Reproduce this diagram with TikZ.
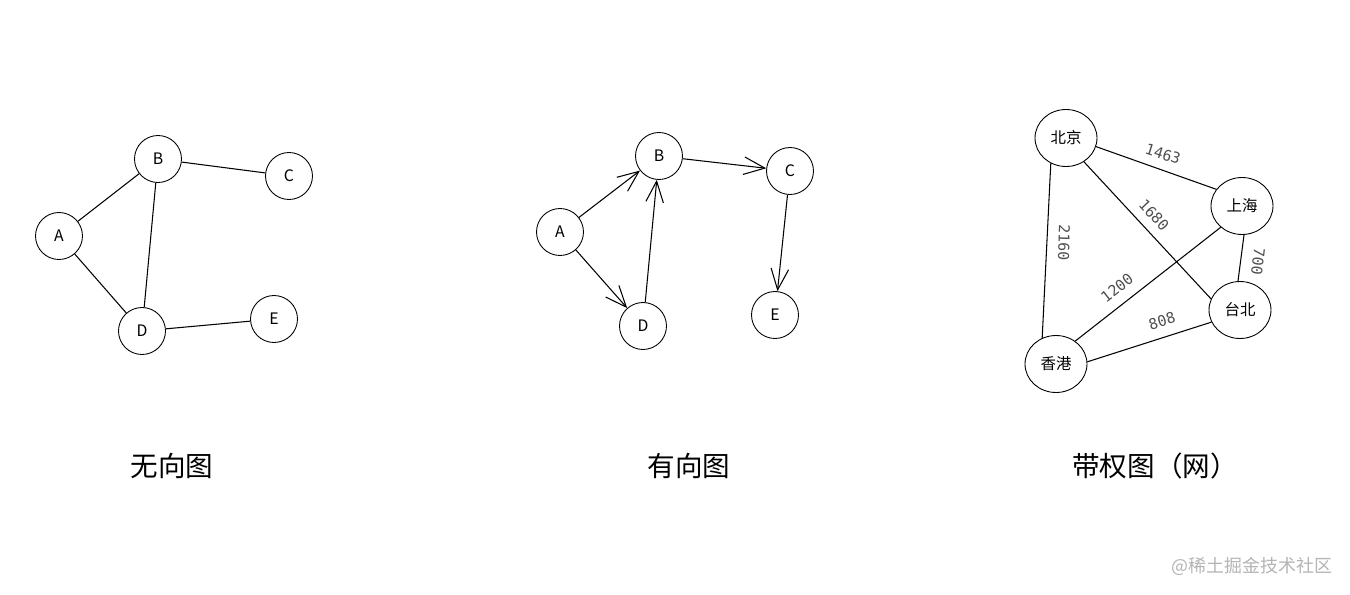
\documentclass[tikz,border=0pt]{standalone}
\usepackage{fontspec}
\setmainfont{Noto Sans CJK SC}
\newfontfamily\digitfont{DejaVu Sans Mono}
\usetikzlibrary{arrows.meta,shapes.geometric,positioning}
\definecolor{labelgray}{HTML}{505050}
\definecolor{markgray}{HTML}{B4B4B4}
\tikzset{
  vtx/.style={draw, circle, line width=0.5pt, minimum size=0.94cm, inner sep=0pt, font=\fontsize{9}{9}\selectfont},
  city/.style={draw, ellipse, line width=0.5pt, minimum width=1.24cm, minimum height=1.14cm, inner sep=0pt, font=\fontsize{8.8}{9}\selectfont},
  edg/.style={line width=0.6pt},
  darc/.style={line width=0.6pt, -{Straight Barb[length=12pt, width=10pt, line width=0.6pt]}},
  wt/.style={text=labelgray, inner sep=0pt, font=\digitfont\fontsize{8.5}{9}\selectfont},
  gtitle/.style={font=\fontsize{15.7}{16}\selectfont},
}

\begin{document}
\begin{tikzpicture}[x=0.02cm, y=-0.02cm]
 \useasboundingbox[fill=white] (0,0) rectangle (1350,595);

 % undirected graph
 \node[vtx] (ua) at (59,236) {A};
 \node[vtx] (ub) at (158,159) {B};
 \node[vtx] (uc) at (289,176) {C};
 \node[vtx] (ud) at (142,331) {D};
 \node[vtx] (ue) at (274,319) {E};
 \draw[edg] (ua) -- (ub);
 \draw[edg] (ua) -- (ud);
 \draw[edg] (ub) -- (uc);
 \draw[edg] (ub) -- (ud);
 \draw[edg] (ud) -- (ue);
 \node[gtitle] (t1) at (172,466) {无向图};

 % directed graph
 \node[vtx] (da) at (560,232) {A};
 \node[vtx] (db) at (659,156) {B};
 \node[vtx] (dc) at (790,171) {C};
 \node[vtx] (dd) at (643,326) {D};
 \node[vtx] (de) at (775,315) {E};
 \draw[darc] (da) -- (db);
 \draw[darc] (da) -- (dd);
 \draw[darc] (dd) -- (db);
 \draw[darc] (db) -- (dc);
 \draw[darc] (dc) -- (de);
 \node[gtitle] (t2) at (689,466) {有向图};

 % weighted graph
 \node[city] (bj) at (1066,138) {北京};
 \node[city] (sh) at (1242,206) {上海};
 \node[city] (tb) at (1240,310) {台北};
 \node[city] (hk) at (1056,364) {香港};
 \draw[edg] (bj.-16) -- (sh.147);
 \draw[edg] (bj.-53) -- (tb.159);
 \draw[edg] (bj.239) -- (hk.118);
 \draw[edg] (sh.225) -- (hk.50);
 \draw[edg] (sh.-86) -- (tb.94);
 \draw[edg] (tb.203) -- (hk.4);
 \node[wt, rotate=-18] (w1463) at (1163,154) {1463};
 \node[wt, rotate=-47] (w1680) at (1154,215) {1680};
 \node[wt, rotate=-92] (w2160) at (1064,243) {2160};
 \node[wt, rotate=-97] (w700) at (1258,262) {700};
 \node[wt, rotate=38] (w1200) at (1117,288) {1200};
 \node[wt, rotate=17] (w808) at (1162,321) {808};
 \node[gtitle] (t3) at (1155,466) {带权图（网）};

 \node[text=markgray, font=\fontsize{10.2}{11}\selectfont] (mark) at (1252,566) {@稀土掘金技术社区};
\end{tikzpicture}
\end{document}
